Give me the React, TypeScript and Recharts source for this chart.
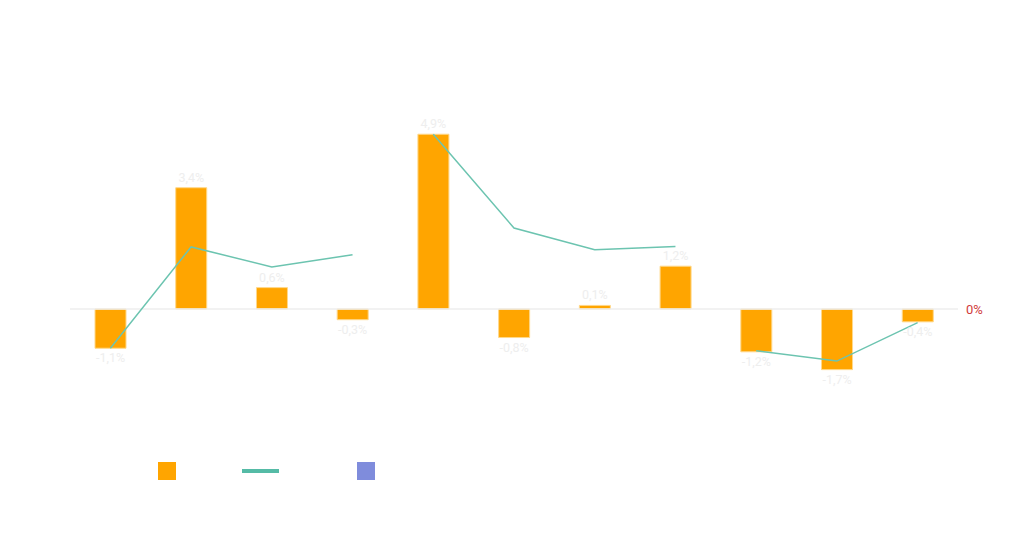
import {
  Bar,
  ComposedChart,
  LabelList,
  Legend,
  Line,
  ReferenceLine,
  XAxis,
  YAxis,
} from 'recharts'

const categories = ['1', '2', '3', '4', '5', '6', '7', '8', '9', '10', '11']
const barValues = [-1.1, 3.4, 0.6, -0.3, 4.9, -0.8, 0.1, 1.2, -1.2, -1.7, -0.36]
// line is broken into three runs, one per group
const lineA = [-1.1, 1.74, 1.18, 1.52, null, null, null, null, null, null, null]
const lineB = [null, null, null, null, 4.9, 2.27, 1.66, 1.75, null, null, null]
const lineC = [null, null, null, null, null, null, null, null, -1.17, -1.46, -0.38]

const legendItems = [
  { color: '#ffa500', type: 'square', left: 158 },
  { color: '#55bba6', type: 'line', left: 242 },
  { color: '#7f8cdc', type: 'square', left: 357 },
]

const data = categories.map((name, i) => ({
  name,
  value: barValues[i],
  a: lineA[i],
  b: lineB[i],
  c: lineC[i],
}))

const fmt = (v: number) => `${v.toFixed(1).replace('.', ',')}%`

function BarLabel(props: any) {
  const { x, y, width, height, value } = props
  if (value == null) return null
  const neg = value < 0
  const bottom = Math.max(y, y + height)
  const top = Math.min(y, y + height)
  return (
    <text
      x={x + width / 2}
      y={neg ? bottom + 14 : top - 6}
      textAnchor="middle"
      fill="#eeeeee"
      fontSize={12.5}
    >
      {fmt(value)}
    </text>
  )
}

function LegendBox() {
  return (
    <div style={{ position: 'relative', width: 400, height: 20 }}>
      {legendItems.map((it, i) =>
        it.type === 'square' ? (
          <div
            key={i}
            style={{
              position: 'absolute',
              left: it.left,
              top: 0,
              width: 18,
              height: 18,
              background: it.color,
            }}
          />
        ) : (
          <div
            key={i}
            style={{
              position: 'absolute',
              left: it.left,
              top: 7,
              width: 37,
              height: 4,
              background: it.color,
            }}
          />
        ),
      )}
    </div>
  )
}

export default function App() {
  return (
    <div
      style={{
        position: 'absolute',
        left: 0,
        top: 0,
        width: 1024,
        height: 538,
        background: '#fff',
        fontFamily: 'Roboto, sans-serif',
      }}
    >
      <ComposedChart
        width={1024}
        height={538}
        data={data}
        margin={{ top: 95, right: 0, bottom: 122, left: 70 }}
      >
        <XAxis dataKey="name" hide />
        <YAxis
          orientation="right"
          domain={[-3, 6]}
          ticks={[0]}
          width={66}
          axisLine={false}
          tickLine={false}
          tick={{ fill: '#d13b3b', fontSize: 13 }}
          tickFormatter={(v: number) => `${v}%`}
        />
        <ReferenceLine y={0} stroke="#eeeeee" strokeWidth={1.5} />
        <Bar
          dataKey="value"
          fill="#ffa500"
          stroke="#ffd88a"
          strokeWidth={1}
          barSize={31}
          isAnimationActive={false}
        >
          <LabelList dataKey="value" content={<BarLabel />} />
        </Bar>
        {['a', 'b', 'c'].map((k) => (
          <Line
            key={k}
            dataKey={k}
            stroke="#6cc4b0"
            strokeWidth={1.5}
            dot={false}
            activeDot={false}
            connectNulls={false}
            isAnimationActive={false}
          />
        ))}
        <Legend
          verticalAlign="middle"
          layout="horizontal"
          content={() => <LegendBox />}
          wrapperStyle={{ position: 'absolute', left: 0, top: 462, width: 400 }}
        />
      </ComposedChart>
    </div>
  )
}
